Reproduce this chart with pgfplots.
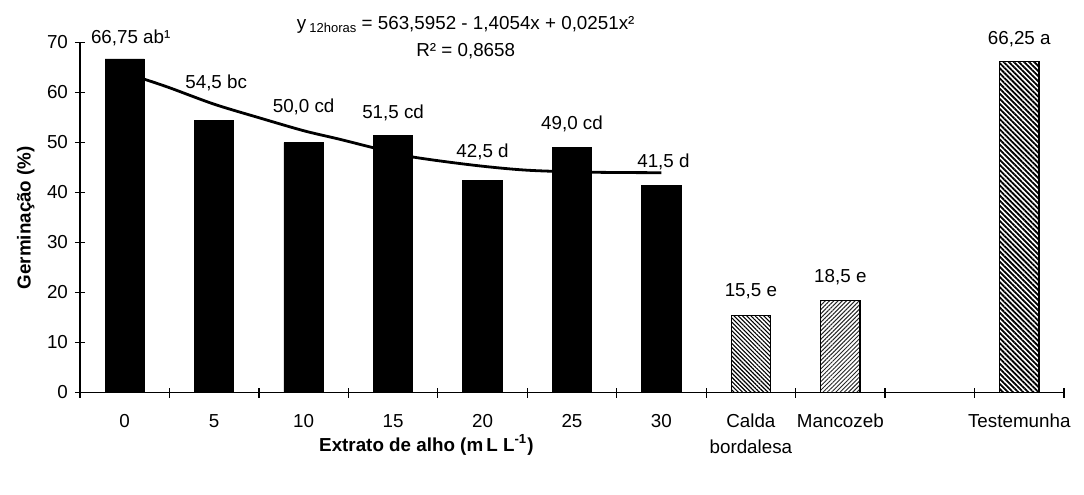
\documentclass[border=0pt]{standalone}
\usepackage{fontspec}
\setmainfont{Liberation Sans}
\usepackage{pgfplots}
\pgfplotsset{compat=1.18}
\usetikzlibrary{patterns.meta}

% doses de extrato (posicao, germinacao, deslocamento do rotulo)
\pgfplotstableread{
x y dy dx lab
0 66.75 7.5 3 {66,75 ab¹}
1 54.5 15.8 1 {54,5 bc}
2 50.0 15.3 0 {50,0 cd}
3 51.5 8.3 0 {51,5 cd}
4 42.5 11.3 0 {42,5 d}
5 49.0 9.0 0 {49,0 cd}
6 41.5 8.7 1 {41,5 d}
}\extrato
\pgfplotstableread{
x y dy dx lab
7 15.5 9.2 0 {15,5 e}
}\calda
\pgfplotstableread{
x y dy dx lab
8 18.5 9.0 0 {18,5 e}
}\mancozeb
\pgfplotstableread{
x y dy dx lab
10 66.25 8.7 0 {66,25 a}
}\testemunha

\begin{document}
\begin{tikzpicture}
\begin{axis}[
scale only axis,
width=492pt, height=175pt,
xmin=-0.5, xmax=10.5,
ymin=0, ymax=70,
enlargelimits=false,
clip=false,
axis lines*=left,
axis line style={line width=0.6pt},
tick align=center,
major tick length=5pt,
tick style={black, line width=0.6pt},
xtick={-0.5,0.5,...,10.5},
x tick label as interval,
xticklabels={0,5,10,15,20,25,30,{Calda\\bordalesa},Mancozeb,{},Testemunha},
ytick={0,10,...,70},
tick label style={font=\fontsize{9.4}{13.3}\selectfont},
typeset ticklabels with strut,
xticklabel style={align=center, yshift=-2pt},
/pgf/number format/assume math mode=true,
ylabel={\bfseries Germinação (\%)},
ylabel style={at={(axis description cs:-0.055,0.5)}, anchor=center, font=\fontsize{9.4}{11}\selectfont},
xlabel={\bfseries Extrato de alho (m\,L L\textsuperscript{-1})},
xlabel style={at={(axis description cs:0.352,-0.149)}, anchor=center, font=\fontsize{9.4}{11}\selectfont},
rotulo/.style={
  nodes near coords,
  point meta=explicit symbolic,
  visualization depends on={\thisrow{dy} \as \dy},
  visualization depends on={\thisrow{dx} \as \dx},
  every node near coord/.append style={anchor=base, inner sep=0pt,
    yshift=\dy pt, xshift=\dx pt, font=\fontsize{9.4}{11}\selectfont, black},
},
]
\addplot[ybar, bar width=0.44, bar shift=0pt, fill=black, draw=black, rotulo]
  table[x=x, y=y, meta=lab] {\extrato};
\addplot[ybar, bar width=0.44, bar shift=0pt, draw=black, line width=0.6pt,
  pattern={Lines[angle=-45, distance=1.5pt, line width=0.55pt]}, pattern color=black, rotulo]
  table[x=x, y=y, meta=lab] {\calda};
\addplot[ybar, bar width=0.44, bar shift=0pt, draw=black, line width=0.6pt,
  pattern={Lines[angle=45, distance=1.5pt, line width=0.5pt]}, pattern color=black!85, rotulo]
  table[x=x, y=y, meta=lab] {\mancozeb};
\addplot[ybar, bar width=0.44, bar shift=0pt, draw=black, line width=0.6pt,
  pattern={Lines[angle=-45, distance=1.8pt, line width=0.9pt]}, pattern color=black, rotulo]
  table[x=x, y=y, meta=lab] {\testemunha};
% curva de regressao
\addplot[smooth, black, line width=1.4pt] coordinates {
  (0,64.0) (0.22,62.7) (0.5,61.0) (1,57.7) (1.5,55.0) (2,52.4) (2.4,50.7)
  (2.8,48.9) (3.2,47.2) (3.9,45.5) (4.5,44.5) (5.2,44.1) (6,44.0)
};
\node[anchor=base, font=\fontsize{9.4}{11}\selectfont] at (axis description cs:0.392,1.039)
  {y\,\raisebox{-0.35ex}{\fontsize{6.5}{7}\selectfont 12horas} = 563,5952 - 1,4054x + 0,0251x²};
\node[anchor=base, font=\fontsize{9.4}{11}\selectfont] at (axis description cs:0.392,0.960)
  {R² = 0,8658};
\end{axis}
\path[use as bounding box] (-40pt,-50.65pt) rectangle (502pt,196.35pt);
\end{tikzpicture}
\end{document}
